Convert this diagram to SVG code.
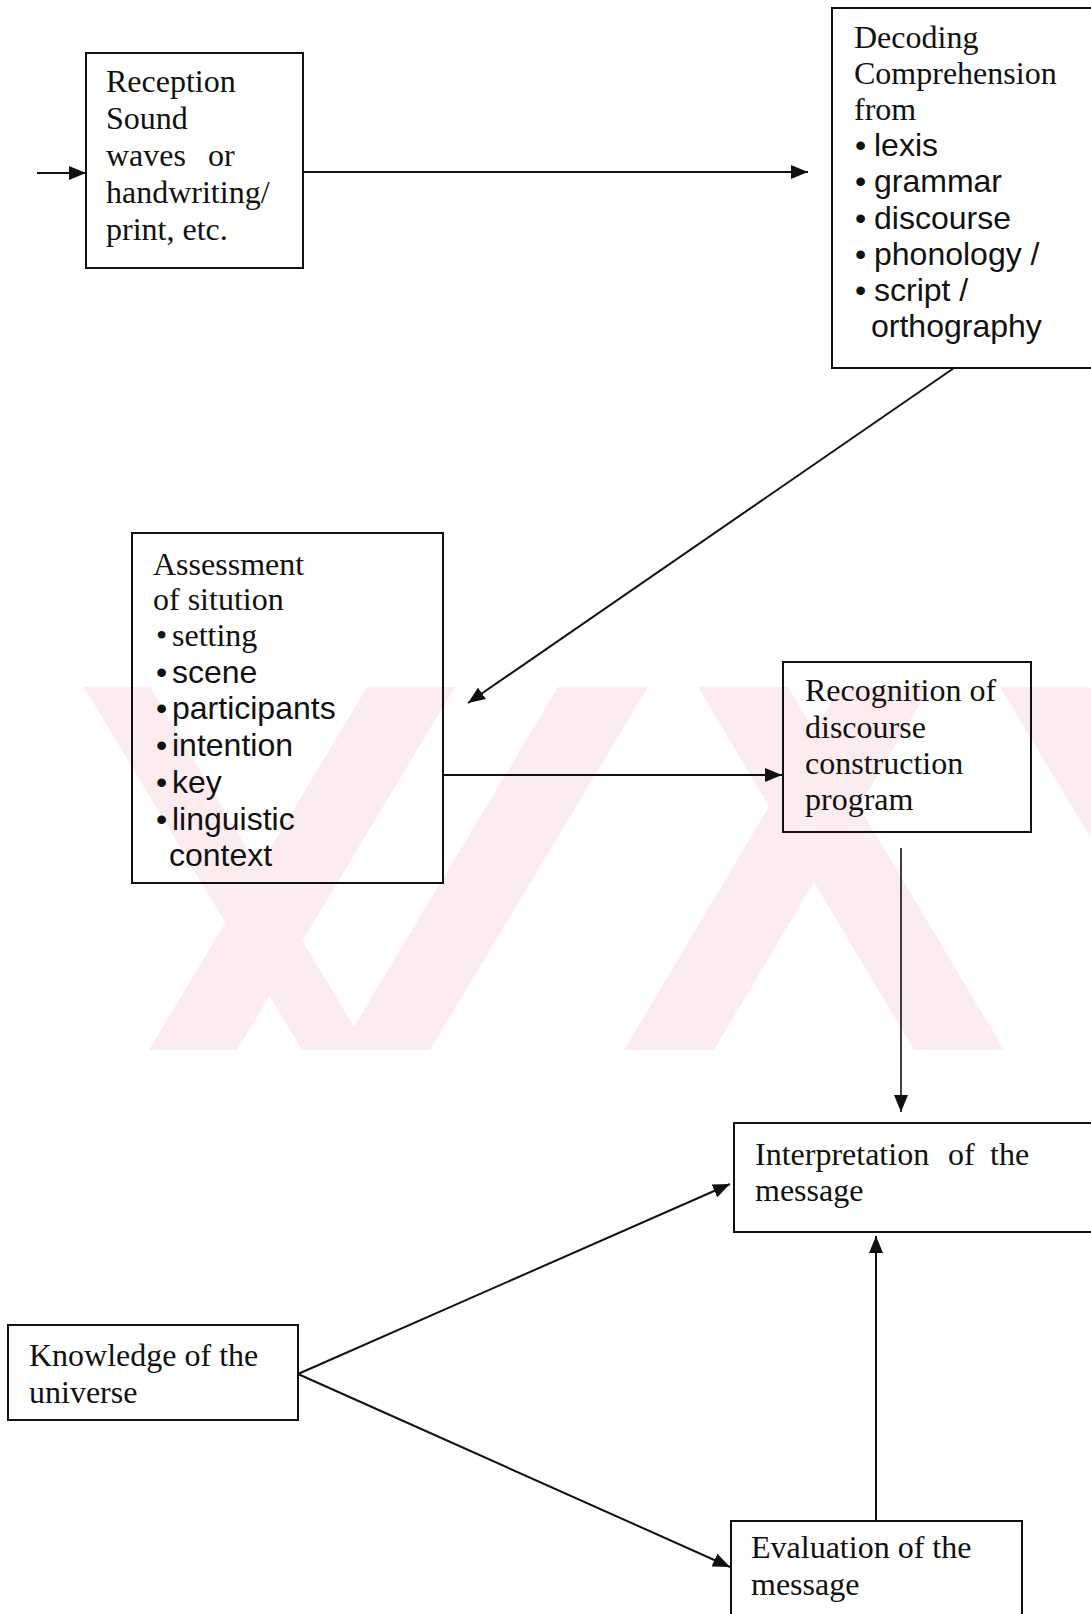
<svg xmlns="http://www.w3.org/2000/svg" width="1091" height="1614" viewBox="0 0 1091 1614">
<style>
.box{fill:none;stroke:#111;stroke-width:2}
.s{font-family:"Liberation Serif","Times New Roman",serif;font-size:32px;fill:#111}
.ss{font-family:"Liberation Sans",Arial,sans-serif;font-size:32px;fill:#111}
.c{stroke:#111;stroke-width:2;fill:none}
.wm{fill:#fdecef}
</style>
<defs>
<marker id="ah" markerUnits="userSpaceOnUse" markerWidth="18" markerHeight="14" refX="17" refY="7" orient="auto">
<path d="M0,0 L17,7 L0,14 Z" fill="#111"/>
</marker>
<clipPath id="band"><rect x="0" y="687" width="1091" height="363"/></clipPath>
</defs>
<rect width="1091" height="1614" fill="#fff"/>
<g id="watermark" clip-path="url(#band)">
<polygon class="wm" points="84,687 150,687 368,1050 302,1050"/>
<polygon class="wm" points="367,687 455,687 237,1050 149,1050"/>
<polygon class="wm" points="558,687 648,687 430,1050 340,1050"/>
<polygon class="wm" points="840,687 930,687 714,1050 624,1050"/>
<polygon class="wm" points="698,687 788,687 1004,1050 914,1050"/>
<polygon class="wm" points="1000,687 1090,687 1308,1050 1218,1050"/>
</g>
<g id="reception">
<rect class="box" x="86" y="53" width="217" height="215"/>
<text class="s" x="106" y="92">Reception</text>
<text class="s" x="106" y="129">Sound</text>
<text class="s" y="166"><tspan x="106">waves</tspan><tspan x="208">or</tspan></text>
<text class="s" x="106" y="203">handwriting/</text>
<text class="s" x="106" y="240">print, etc.</text>
</g>
<g id="decoding">
<rect class="box" x="832" y="8" width="280" height="360"/>
<text class="s" x="854" y="48">Decoding</text>
<text class="s" x="854" y="84">Comprehension</text>
<text class="s" x="854" y="120">from</text>
<g class="ss">
<text y="156"><tspan x="855">•</tspan><tspan x="874">lexis</tspan></text>
<text y="192"><tspan x="855">•</tspan><tspan x="874">grammar</tspan></text>
<text y="229"><tspan x="855">•</tspan><tspan x="874">discourse</tspan></text>
<text y="265"><tspan x="855">•</tspan><tspan x="874">phonology /</tspan></text>
<text y="301"><tspan x="855">•</tspan><tspan x="874">script /</tspan></text>
<text x="871" y="337">orthography</text>
</g>
</g>
<g id="assessment">
<rect class="box" x="132" y="533" width="311" height="350"/>
<text class="s" x="153" y="575">Assessment</text>
<text class="s" x="153" y="610">of sitution</text>
<text class="s" y="646"><tspan x="156">•</tspan><tspan x="172">setting</tspan></text>
<g class="ss">
<text y="683"><tspan x="156">•</tspan><tspan x="172">scene</tspan></text>
<text y="719"><tspan x="156">•</tspan><tspan x="172">participants</tspan></text>
<text y="756"><tspan x="156">•</tspan><tspan x="172">intention</tspan></text>
<text y="793"><tspan x="156">•</tspan><tspan x="172">key</tspan></text>
<text y="830"><tspan x="156">•</tspan><tspan x="172">linguistic</tspan></text>
<text x="169" y="866">context</text>
</g>
</g>
<g id="recognition">
<rect class="box" x="783" y="662" width="248" height="170"/>
<text class="s" x="805" y="701">Recognition of</text>
<text class="s" x="805" y="738">discourse</text>
<text class="s" x="805" y="774">construction</text>
<text class="s" x="805" y="810">program</text>
</g>
<g id="interpretation">
<rect class="box" x="734" y="1123" width="380" height="109"/>
<text class="s" y="1165"><tspan x="755">Interpretation</tspan><tspan x="948">of</tspan><tspan x="990">the</tspan></text>
<text class="s" x="755" y="1201">message</text>
</g>
<g id="knowledge">
<rect class="box" x="8" y="1325" width="290" height="95"/>
<text class="s" x="29" y="1366">Knowledge of the</text>
<text class="s" x="29" y="1403">universe</text>
</g>
<g id="evaluation">
<rect class="box" x="731" y="1521" width="291" height="110"/>
<text class="s" x="751" y="1558">Evaluation of the</text>
<text class="s" x="751" y="1595">message</text>
</g>
<g id="connectors">
<line class="c" x1="37" y1="173" x2="86" y2="173" marker-end="url(#ah)"/>
<line class="c" x1="303" y1="172" x2="808" y2="172" marker-end="url(#ah)"/>
<line class="c" x1="954" y1="368" x2="468" y2="703" marker-end="url(#ah)"/>
<line class="c" x1="443" y1="775" x2="782" y2="775" marker-end="url(#ah)"/>
<line class="c" style="stroke-width:1.6" x1="901" y1="848" x2="901" y2="1112" marker-end="url(#ah)"/>
<line class="c" x1="298" y1="1374" x2="730" y2="1184" marker-end="url(#ah)"/>
<line class="c" x1="298" y1="1374" x2="730" y2="1567" marker-end="url(#ah)"/>
<line class="c" x1="876" y1="1521" x2="876" y2="1236" marker-end="url(#ah)"/>
</g>
</svg>
